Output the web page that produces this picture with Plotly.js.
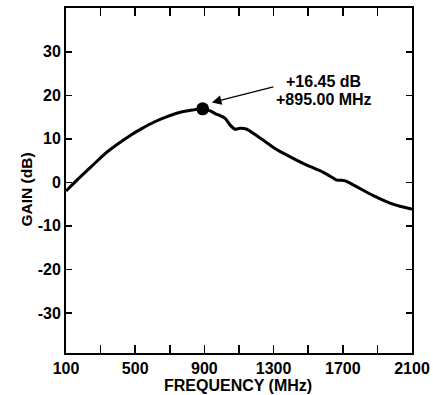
<!DOCTYPE html>
<html>
<head>
<meta charset="utf-8">
<script src="https://cdn.plot.ly/plotly-3.0.1.min.js"></script>
<style>
  html, body { margin: 0; padding: 0; background: #fff; }
  #chart { width: 433px; height: 395px; }
</style>
</head>
<body>
<div id="chart"></div>
<script>
// Frequency (MHz) and gain (dB)
const freq = [100, 169, 246, 323, 399, 476, 540, 607, 684, 761, 830, 890, 933, 962, 1020, 1048, 1077, 1106, 1145, 1211, 1240, 1308, 1355, 1394, 1489, 1585, 1640, 1665, 1690, 1715, 1777, 1873, 1969, 2030, 2084, 2100];
const gain = [-2.0, 0.75, 3.6, 6.5, 8.8, 10.9, 12.4, 13.8, 15.1, 16.1, 16.6, 16.9, 16.4, 15.8, 14.7, 13.2, 12.2, 12.4, 12.2, 10.5, 9.7, 7.8, 6.7, 5.9, 4.0, 2.35, 1.1, 0.5, 0.5, 0.35, -0.94, -3.0, -4.7, -5.5, -6.0, -6.1];

// Marker point
const markerFreq = [890];
const markerGain = [16.9];
const markerLabel = ['+16.45 dB', '+895.00 MHz'];

// Axis ticks
const xTickVals = [100, 300, 500, 700, 900, 1100, 1300, 1500, 1700, 1900, 2100];
const xTickText = ['100', '', '500', '', '900', '', '1300', '', '1700', '', '2100'];
const yTickVals = [-30, -20, -10, 0, 10, 20, 30];
const yTickText = ['-30', '-20', '-10', '0', '10', '20', '30'];

const FONT = 'Liberation Sans, Arial, Helvetica, sans-serif';

const traces = [
  {
    x: freq, y: gain, type: 'scatter', mode: 'lines',
    line: { color: '#000', width: 3, shape: 'spline', smoothing: 0.6 },
    hoverinfo: 'skip'
  },
  {
    x: markerFreq, y: markerGain, type: 'scatter', mode: 'markers',
    marker: { color: '#000', size: 13 },
    hoverinfo: 'skip'
  }
];

const layout = {
  width: 433, height: 395,
  margin: { l: 66, r: 21, t: 8, b: 42 },
  paper_bgcolor: '#fff', plot_bgcolor: '#fff',
  showlegend: false,
  font: { family: FONT, size: 16, color: '#000', weight: 'bold' },
  xaxis: {
    range: [100, 2100],
    tickvals: xTickVals, ticktext: xTickText,
    ticks: 'inside', ticklen: 8, tickwidth: 1.5, tickcolor: '#000',
    showline: true, linecolor: '#000', linewidth: 2, mirror: 'ticks',
    showgrid: false, zeroline: false,
    tickfont: { family: FONT, size: 16, color: '#000', weight: 'bold' }
  },
  yaxis: {
    range: [-39.2, 40.05],
    tickvals: yTickVals, ticktext: yTickText,
    ticks: 'inside', ticklen: 6, tickwidth: 1.5, tickcolor: '#000',
    showline: true, linecolor: '#000', linewidth: 2, mirror: 'ticks',
    showgrid: false, zeroline: false,
    tickfont: { family: FONT, size: 16, color: '#000', weight: 'bold' }
  },
  annotations: [
    {
      text: markerLabel[0], x: 1590, y: 23.2, xref: 'x', yref: 'y',
      showarrow: false, xanchor: 'center', yanchor: 'middle',
      font: { family: FONT, size: 16, color: '#000', weight: 'bold' }
    },
    {
      text: markerLabel[1], x: 1590, y: 19.0, xref: 'x', yref: 'y',
      showarrow: false, xanchor: 'center', yanchor: 'middle',
      font: { family: FONT, size: 16, color: '#000', weight: 'bold' }
    },
    {
      text: ' ', x: 943, y: 18.35, xref: 'x', yref: 'y',
      showarrow: true, ax: 63, ay: -16, axref: 'pixel', ayref: 'pixel',
      arrowhead: 2, arrowsize: 1.6, arrowwidth: 1.2, arrowcolor: '#000',
      standoff: 0, font: { size: 1 }
    },
    {
      text: 'FREQUENCY (MHz)', xref: 'paper', yref: 'paper',
      x: 0.4957, y: -0.0952, showarrow: false,
      xanchor: 'center', yanchor: 'middle',
      font: { family: FONT, size: 16, color: '#000', weight: 'bold' }
    },
    {
      text: 'GAIN (dB)', xref: 'paper', yref: 'paper',
      x: -0.1137, y: 0.473, showarrow: false, textangle: -90,
      xanchor: 'center', yanchor: 'middle',
      font: { family: FONT, size: 15.5, color: '#000', weight: 'bold' }
    }
  ]
};

Plotly.newPlot('chart', traces, layout, { staticPlot: true, displayModeBar: false });
</script>
</body>
</html>
